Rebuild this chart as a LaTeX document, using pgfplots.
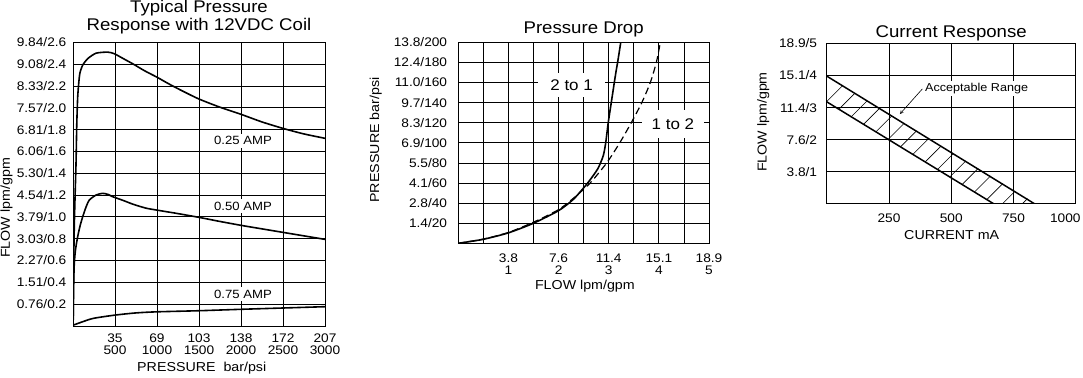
\documentclass[border=0pt]{standalone}
\usepackage{fontspec}
\setmainfont{Liberation Sans}[FakeStretch=1.1]
\usepackage{pgfplots}
\pgfplotsset{compat=1.18}
\pgfplotsset{
  myax/.style={
    scale only axis, anchor=south west,
    axis line style={black, line width=1bp},
    grid=major,
    major grid style={black, line width=0.8bp},
    minor grid style={black, line width=0.8bp},
    major tick length=0pt, minor tick length=0pt,
    tick style={draw=none},
    ticklabel style={font=\fontsize{12.5}{12.5}\selectfont},
    label style={font=\fontsize{13}{14}\selectfont},
    every axis title shift=0pt,
    title style={font=\fontsize{17}{18}\selectfont, inner sep=0pt, anchor=north, align=center},
  },
  curve/.style={black, line width=1.6bp, smooth, tension=0.4, mark=none},
}
\begin{document}
\begin{tikzpicture}[x=1bp,y=1bp]
\useasboundingbox (0,0) rectangle (1083,377);

% ---------------- Left chart ----------------
\begin{axis}[myax,
  at={(73bp,51bp)}, width=252bp, height=283.7bp,
  xmin=0, xmax=3000, ymin=0, ymax=2.6,
  xtick={500,1000,1500,2000,2500,3000},
  xticklabels={{35\\500},{69\\1000},{103\\1500},{138\\2000},{172\\2500},{207\\3000}},
  xticklabel style={align=center, anchor=north, inner sep=0pt, yshift=-8bp, font=\fontsize{12.5}{12}\selectfont},
  ytick={0.2,0.4,0.6,0.8,1.0,1.2,1.4,1.6,1.8,2.0,2.2,2.4,2.6},
  yticklabels={0.76/0.2,1.51/0.4,2.27/0.6,3.03/0.8,3.79/1.0,4.54/1.2,5.30/1.4,6.06/1.6,6.81/1.8,7.57/2.0,8.33/2.2,9.08/2.4,9.84/2.6},
  yticklabel style={anchor=east, inner sep=0pt, xshift=-6.5bp},
  title={Typical Pressure\\Response with 12VDC Coil},
  title style={at={(axis description cs:0.5,1.0275)}, anchor=south},
  xlabel={PRESSURE~~bar/psi},
  xlabel style={at={(axis description cs:0.511,-0.162)}, anchor=base},
  ylabel={FLOW lpm/gpm},
  ylabel style={at={(axis description cs:-0.264,0.416)}, anchor=center},
]
% 0.25 AMP
\addplot[curve] coordinates {
 (2,0.05)(6,0.45)(15,0.9)(25,1.2)(36,1.49)(45,1.85)(56,2.10)(70,2.24)(83,2.32)(115,2.39)
 (175,2.45)(274,2.50)(413,2.51)(492,2.495)(600,2.45)(718,2.40)(850,2.34)(1000,2.28)
 (1150,2.215)(1300,2.155)(1500,2.08)(1750,2.005)(2000,1.94)(2250,1.87)(2504,1.81)(2750,1.76)(3000,1.72)};
% 0.50 AMP
\addplot[curve] coordinates {
 (2,0.02)(4,0.18)(10,0.45)(16,0.58)(30,0.70)(56,0.82)(85,0.92)(115,1.0)(155,1.09)(195,1.155)
 (274,1.20)(353,1.216)(420,1.205)(472,1.185)(600,1.15)(718,1.115)(869,1.08)(1000,1.062)
 (1250,1.03)(1504,0.995)(1750,0.958)(2004,0.922)(2250,0.89)(2500,0.858)(2750,0.826)(3000,0.794)};
% 0.75 AMP
\addplot[curve] coordinates {
 (10,0.01)(100,0.035)(242,0.07)(500,0.10)(750,0.12)(1000,0.13)(1500,0.14)(2000,0.153)(2500,0.165)(3000,0.177)};
\node[fill=white, inner sep=3bp, font=\fontsize{12}{12}\selectfont] at (axis cs:2024,1.697) {0.25 AMP};
\node[fill=white, inner sep=3bp, font=\fontsize{12}{12}\selectfont] at (axis cs:2024,1.10) {0.50 AMP};
\node[fill=white, inner sep=3bp, font=\fontsize{12}{12}\selectfont] at (axis cs:2024,0.293) {0.75 AMP};
\end{axis}

% ---------------- Middle chart ----------------
\begin{axis}[myax,
  at={(458.3bp,133.7bp)}, width=250.7bp, height=201bp,
  xmin=0, xmax=5, ymin=0, ymax=200,
  grid=both,
  xtick={1,2,3,4,5},
  minor xtick={0.5,1.5,2.5,3.5,4.5},
  xticklabels={{3.8\\1},{7.6\\2},{11.4\\3},{15.1\\4},{18.9\\5}},
  xticklabel style={align=center, anchor=north, inner sep=0pt, yshift=-10bp},
  ytick={20,40,60,80,100,120,140,160,180,200},
  yticklabels={1.4/20,2.8/40,4.1/60,5.5/80,6.9/100,8.3/120,9.7/140,11.0/160,12.4/180,13.8/200},
  yticklabel style={anchor=east, inner sep=0pt, xshift=-11bp},
  title={Pressure Drop},
  title style={at={(axis description cs:0.5,1.1045)}},
  xlabel={FLOW lpm/gpm},
  xlabel style={at={(axis description cs:0.505,-0.232)}, anchor=base},
  ylabel={PRESSURE bar/psi},
  ylabel style={at={(axis description cs:-0.329,0.514)}, anchor=center},
]
% 2 to 1 (solid)
\addplot[curve] coordinates {
 (0,0)(0.5,4)(1,10.4)(1.5,20)(2.0,32.5)(2.3,44)(2.58,60)(2.78,74)(2.89,87)(2.94,100)(2.99,120)(3.06,143)(3.13,166)(3.19,184)(3.24,200)};
% 1 to 2 (dashed)
\addplot[curve, line width=1.2bp, dash pattern=on 7bp off 4bp] coordinates {
 (0,0)(0.5,4.2)(1,10.8)(1.5,21)(2.0,33.5)(2.3,45)(2.63,60)(2.96,80)(3.22,100)(3.45,120)(3.66,140)(3.83,160)(3.95,180)(4.03,200)};
\node[fill=white, inner xsep=12bp, inner ysep=7bp, font=\fontsize{15.5}{16}\selectfont] at (axis cs:2.26,157.5) {2 to 1};
\node[fill=white, inner xsep=10bp, inner ysep=9bp, font=\fontsize{15.5}{16}\selectfont] at (axis cs:4.28,118.7) {1 to 2};
\end{axis}

% ---------------- Right chart ----------------
\begin{axis}[myax,
  at={(826.7bp,173bp)}, width=249bp, height=160.7bp,
  xmin=0, xmax=1000, ymin=0, ymax=5,
  xtick={250,500,750},
  xticklabels={250,500,750},
  xticklabel style={anchor=north, inner sep=0pt, yshift=-9.3bp},
  extra x ticks={1000},
  extra x tick labels={1000},
  extra x tick style={xticklabel style={anchor=north east, xshift=5bp}},
  ytick={1,2,3,4,5},
  yticklabels={3.8/1,7.6/2,11.4/3,15.1/4,18.9/5},
  yticklabel style={anchor=east, inner sep=0pt, xshift=-9.4bp},
  title={Current Response},
  title style={at={(axis description cs:0.5,1.114)}},
  xlabel={CURRENT mA},
  xlabel style={at={(axis description cs:0.502,-0.224)}, anchor=base},
  ylabel={FLOW lpm/gpm},
  ylabel style={at={(axis description cs:-0.255,0.51)}, anchor=center},
]
\addplot[black, line width=0.6bp, unbounded coords=jump] coordinates {
 (-0.5,3.182)(63.5,3.678)(63.5,nan)
 (49,2.948)(113,3.444)(113,nan)
 (98.5,2.714)(162.5,3.210)(162.5,nan)
 (148,2.480)(212,2.976)(212,nan)
 (197.5,2.246)(261.5,2.742)(261.5,nan)
 (247,2.012)(311,2.508)(311,nan)
 (296.5,1.778)(360.5,2.274)(360.5,nan)
 (346,1.543)(410,2.039)(410,nan)
 (395.5,1.309)(459.5,1.805)(459.5,nan)
 (445,1.075)(509,1.571)(509,nan)
 (494.5,0.841)(558.5,1.337)(558.5,nan)
 (544,0.607)(608,1.103)(608,nan)
 (593.5,0.373)(657.5,0.869)(657.5,nan)
 (643,0.139)(707,0.635)(707,nan)
 (692.5,-0.096)(756.5,0.400)(756.5,nan)
 (742,-0.330)(806,0.166)};
\addplot[black, line width=1.5bp] coordinates {(0,3.98)(836,0)};
\addplot[black, line width=1.5bp] coordinates {(0,3.18)(672,0)};
\node[fill=white, inner sep=2bp, font=\fontsize{11.5}{12}\selectfont] at (axis cs:602,3.60) {Acceptable Range};
\addplot[black, line width=0.6bp, -stealth] coordinates {(384,3.58)(294,2.80)};
\end{axis}
\end{tikzpicture}
\end{document}
